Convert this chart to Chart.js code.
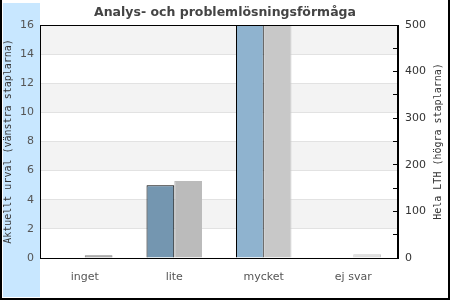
<!DOCTYPE html>
<html>
<head>
<meta charset="utf-8">
<script src="https://cdn.jsdelivr.net/npm/chart.js@4.4.1/dist/chart.umd.min.js"></script>
<style>
  html, body { margin: 0; padding: 0; background: #fff; }
  canvas { display: block; }
</style>
</head>
<body>
<canvas id="myChart" width="450" height="300"></canvas>
<script>
const categories = ['inget', 'lite', 'mycket', 'ej svar']
const urvalValues = [0, 5, 16, 0]
const lthValues = [6, 165, 505, 8]
const urvalColors = ['#7f9fb8', '#7496b0', '#8fb3cf', '#a9c4d9']
const lthColors = ['#999999', '#bbbbbb', '#c8c8c8', '#dddddd']
const lthBorders = ['#808080', '#bbbbbb', '#c8c8c8', '#cccccc']
const rightTitle = 'Hela LTH (högra staplarna)'

Chart.defaults.font.family = 'DejaVu Sans'

// bakgrund: blå remsa, randiga band och ram
const decor = {
    id: 'decor',
    beforeDraw(chart) {
        const ctx = chart.ctx
        const area = chart.chartArea
        const y = chart.scales.y
        ctx.save()
        ctx.fillStyle = '#c8e7ff'
        ctx.fillRect(3, 3, area.left - 3, chart.height - 6)
        ctx.fillStyle = '#f3f3f3'
        for (let v = 0; v < 16; v += 2) {
            if ((v / 2) % 2 === 1) {
                const top = y.getPixelForValue(v + 2)
                const bottom = y.getPixelForValue(v)
                ctx.fillRect(area.left, top, area.right - area.left, bottom - top)
            }
        }
        ctx.restore()
    },
    afterDatasetsDraw(chart) {
        const ctx = chart.ctx
        const area = chart.chartArea
        ctx.save()
        ctx.strokeStyle = '#000'
        ctx.lineWidth = 1
        ctx.strokeRect(Math.round(area.left) + 0.5, Math.round(area.top) + 0.5,
            Math.round(area.right - area.left) - 1, Math.round(area.bottom - area.top))
        ctx.lineWidth = 2
        ctx.beginPath()
        ctx.moveTo(1, 0)
        ctx.lineTo(1, chart.height - 1)
        ctx.lineTo(chart.width - 1, chart.height - 1)
        ctx.lineTo(chart.width - 1, 0)
        ctx.stroke()
        // höger axeltitel, läses nedifrån och upp
        ctx.translate(chart.width - 12, (area.top + area.bottom) / 2)
        ctx.rotate(-Math.PI / 2)
        ctx.fillStyle = '#333'
        ctx.font = '10px "DejaVu Sans Mono"'
        ctx.textAlign = 'center'
        ctx.textBaseline = 'middle'
        ctx.fillText(rightTitle, 0, 0)
        ctx.restore()
    }
}

let myChart = document.getElementById('myChart').getContext('2d')
const data = {
    labels: categories,
    datasets: [{
        label: 'Aktuellt urval',
        data: urvalValues,
        backgroundColor: urvalColors,
        borderColor: '#000',
        borderWidth: 1,
        yAxisID: 'y',
        categoryPercentage: 0.62,
        barPercentage: 1.0
    }, {
        label: 'Hela LTH',
        data: lthValues,
        backgroundColor: lthColors,
        borderColor: lthBorders,
        borderWidth: 1,
        yAxisID: 'y1',
        categoryPercentage: 0.62,
        barPercentage: 1.0
    }]
}

let ltChart = new Chart(myChart, {
    type: 'bar',
    data: data,
    plugins: [decor],
    options: {
        responsive: false,
        animation: false,
        layout: { padding: 0 },
        plugins: {
            legend: { display: false },
            tooltip: { enabled: false },
            title: {
                display: true,
                text: 'Analys- och problemlösningsförmåga',
                color: '#444',
                font: { size: 12.5, weight: 'bold' },
                padding: { top: 5, bottom: 5 }
            }
        },
        scales: {
            x: {
                grid: { display: false },
                border: { display: true, color: '#000' },
                ticks: { color: '#555', font: { size: 11 }, padding: 5 },
                afterFit: scale => { scale.height = 42 }
            },
            y: {
                position: 'left',
                min: 0,
                max: 16,
                ticks: { stepSize: 2, color: '#555', font: { size: 11 }, padding: 6 },
                grid: { color: '#e2e2e2', drawTicks: false },
                border: { display: true, color: '#000' },
                title: {
                    display: true,
                    text: 'Aktuellt urval (vänstra staplarna)',
                    color: '#333',
                    font: { family: 'DejaVu Sans Mono', size: 10 },
                    padding: { top: 2, bottom: 0 }
                },
                afterFit: scale => { scale.width = 40 }
            },
            y1: {
                position: 'right',
                min: 0,
                max: 500,
                ticks: {
                    stepSize: 50,
                    color: '#333',
                    font: { size: 11 },
                    padding: 12,
                    callback: v => (v % 100 === 0 ? v : '')
                },
                grid: { drawOnChartArea: false, color: '#000', tickLength: -5 },
                border: { display: true, color: '#000' },
                afterFit: scale => { scale.width = 52 }
            }
        }
    }
})
</script>
</body>
</html>
